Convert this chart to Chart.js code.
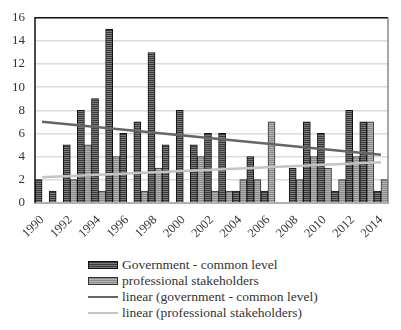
<!DOCTYPE html>
<html lang="en">
<head>
    <meta charset="UTF-8">
    <title>Government vs professional stakeholders</title>
    <script src="https://cdn.jsdelivr.net/npm/chart.js"></script>
    <style>
        body {
            margin: 0;
            padding: 0;
            background: #fff;
            font-family: 'Liberation Serif', serif;
            color: #333;
        }
        .wrap {
            width: 401px;
            height: 257px;
            position: relative;
        }
        .legend {
            margin-left: 88px;
            font-size: 13.5px;
            line-height: 16px;
        }
        .legend div {
            display: flex;
            align-items: center;
            height: 16px;
        }
        .sw {
            width: 30px;
            margin-right: 4px;
            box-sizing: border-box;
        }
        .sw.gov {
            height: 8px;
            border: 1px solid #111;
            background: repeating-linear-gradient(#3a3a3a 0 1px, #7a7a7a 1px 2px);
        }
        .sw.prof {
            height: 8px;
            border: 1px solid #333;
            background: repeating-linear-gradient(#8a8a8a 0 1px, #b4b4b4 1px 2px);
        }
        .sw.lgov { height: 2px; background: #666; }
        .sw.lprof { height: 2px; background: #c4c4c4; }
    </style>
</head>
<body>
    <div class="wrap"><canvas id="chart"></canvas></div>
    <div class="legend" id="legend"></div>
    <script>
        const years = ['1990', '1991', '1992', '1993', '1994', '1995', '1996', '1997', '1998', '1999',
            '2000', '2001', '2002', '2003', '2004', '2005', '2006', '2007', '2008', '2009',
            '2010', '2011', '2012', '2013', '2014'];
        const government = [2, 1, 5, 8, 9, 15, 6, 7, 13, 5, 8, 5, 6, 6, 1, 4, 1, 0, 3, 7, 6, 1, 8, 7, 1];
        const professional = [0, 0, 2, 5, 1, 4, 0, 1, 3, 0, 0, 4, 1, 1, 2, 2, 7, 0, 2, 4, 3, 2, 4, 7, 2];
        // trend line end values
        const trendGovEnds = [7.0, 4.15];
        const trendProfEnds = [2.2, 3.5];
        const legendNames = ['Government - common level', 'professional stakeholders',
            'linear (government - common level)', 'linear (professional stakeholders)'];

        function endsToSeries(ends) {
            return years.map((y, i) => i === 0 ? ends[0] : (i === years.length - 1 ? ends[1] : null));
        }

        function stripes(c1, c2) {
            const p = document.createElement('canvas');
            p.width = 4;
            p.height = 2;
            const g = p.getContext('2d');
            g.fillStyle = c1;
            g.fillRect(0, 0, 4, 1);
            g.fillStyle = c2;
            g.fillRect(0, 1, 4, 1);
            return g.createPattern(p, 'repeat');
        }

        const plotFrame = {
            id: 'plotFrame',
            afterDraw(chart) {
                const a = chart.chartArea;
                const ctx = chart.ctx;
                ctx.save();
                ctx.lineWidth = 1.5;
                ctx.strokeStyle = '#111';
                ctx.beginPath();
                ctx.moveTo(a.left, a.bottom);
                ctx.lineTo(a.left, a.top);
                ctx.lineTo(a.right, a.top);
                ctx.stroke();
                ctx.strokeStyle = '#888';
                ctx.beginPath();
                ctx.moveTo(a.right, a.top);
                ctx.lineTo(a.right, a.bottom);
                ctx.stroke();
                ctx.restore();
            }
        };

        const ctx = document.getElementById('chart').getContext('2d');
        new Chart(ctx, {
            data: {
                labels: years,
                datasets: [
                    {
                        type: 'line',
                        label: legendNames[2],
                        data: endsToSeries(trendGovEnds),
                        borderColor: '#666',
                        borderWidth: 2.5,
                        pointRadius: 0,
                        spanGaps: true,
                        order: 0
                    },
                    {
                        type: 'line',
                        label: legendNames[3],
                        data: endsToSeries(trendProfEnds),
                        borderColor: '#c4c4c4',
                        borderWidth: 2.5,
                        pointRadius: 0,
                        spanGaps: true,
                        order: 0
                    },
                    {
                        type: 'bar',
                        label: legendNames[0],
                        data: government,
                        backgroundColor: stripes('#3a3a3a', '#7a7a7a'),
                        borderColor: '#111',
                        borderWidth: 1,
                        categoryPercentage: 1,
                        barPercentage: 1,
                        order: 1
                    },
                    {
                        type: 'bar',
                        label: legendNames[1],
                        data: professional,
                        backgroundColor: stripes('#8a8a8a', '#b4b4b4'),
                        borderColor: '#333',
                        borderWidth: 1,
                        categoryPercentage: 1,
                        barPercentage: 1,
                        order: 1
                    }
                ]
            },
            options: {
                responsive: true,
                maintainAspectRatio: false,
                animation: false,
                layout: { padding: { left: 2, right: 13, top: 8, bottom: 14 } },
                plugins: {
                    legend: { display: false },
                    tooltip: { enabled: false }
                },
                scales: {
                    x: {
                        grid: { display: false },
                        border: { color: '#b0b0b0', width: 2 },
                        ticks: {
                            autoSkip: false,
                            minRotation: 45,
                            maxRotation: 45,
                            color: '#333',
                            font: { family: 'Liberation Serif', size: 12.5 },
                            padding: 2,
                            callback: function (v, i) { return i % 2 === 0 ? years[i] : ''; }
                        }
                    },
                    y: {
                        min: 0,
                        max: 16,
                        grid: { color: '#dcdcdc', lineWidth: 1.5, drawTicks: false },
                        border: { display: false },
                        ticks: {
                            stepSize: 2,
                            color: '#333',
                            padding: 10,
                            font: { family: 'Liberation Serif', size: 13 }
                        }
                    }
                }
            },
            plugins: [plotFrame]
        });

        const legendEl = document.getElementById('legend');
        const swClasses = ['gov', 'prof', 'lgov', 'lprof'];
        legendNames.forEach((name, i) => {
            const row = document.createElement('div');
            row.innerHTML = '<span class="sw ' + swClasses[i] + '"></span><span>' + name + '</span>';
            legendEl.appendChild(row);
        });
    </script>
</body>
</html>
